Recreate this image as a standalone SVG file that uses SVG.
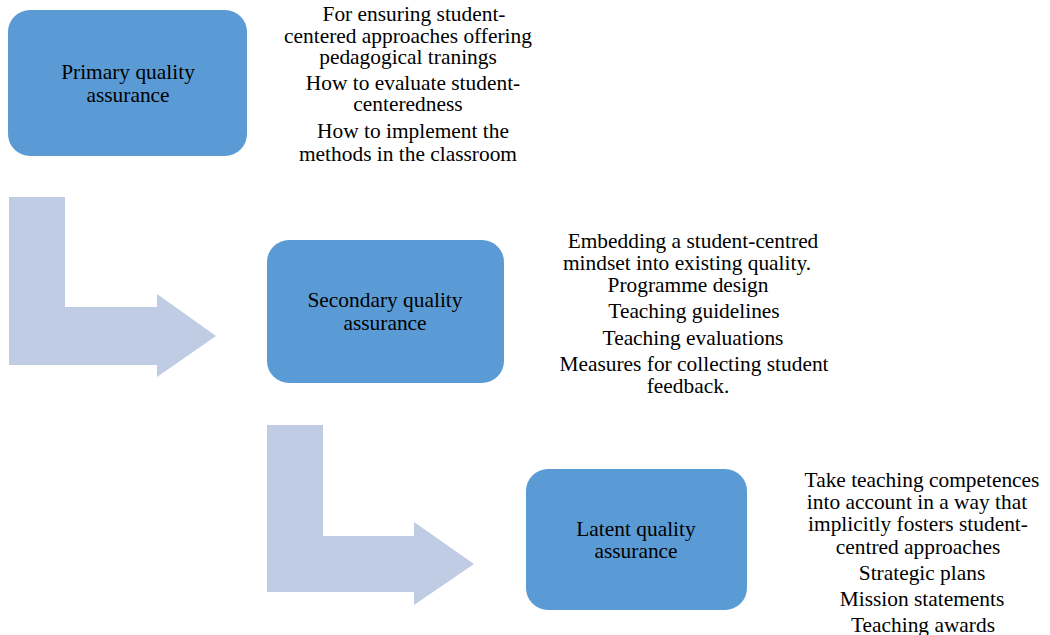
<svg xmlns="http://www.w3.org/2000/svg" width="1050" height="635" viewBox="0 0 1050 635">
<style>
.box{fill:#5B9BD5;}
.arr{fill:#BFCCE3;}
text{font-family:"Liberation Serif","Times New Roman",serif;font-size:21.4px;fill:#000;text-anchor:middle;}
</style>
<rect width="1050" height="635" fill="#fff"/>
<g id="connectors">
<path class="arr" d="M9,197 H65 V307 H157 V294 L216,336 L157,377 V365 H9 Z"/>
<path class="arr" d="M267,425 H323 V536 H414 V522 L474,564 L414,605 V592 H267 Z"/>
</g>
<g id="primary">
<rect class="box" x="8" y="10" width="239" height="146" rx="22"/>
<text x="128" y="79">Primary quality</text>
<text x="128" y="102">assurance</text>
</g>
<g id="secondary">
<rect class="box" x="267" y="240" width="237" height="143" rx="22"/>
<text x="385" y="307">Secondary quality</text>
<text x="385" y="330">assurance</text>
</g>
<g id="latent">
<rect class="box" x="526" y="469" width="221" height="141" rx="22"/>
<text x="636" y="536">Latent quality</text>
<text x="636" y="558">assurance</text>
</g>
<g id="primary-notes">
<text x="414" y="21">For ensuring student-</text>
<text x="408" y="43">centered approaches offering</text>
<text x="408" y="64">pedagogical tranings</text>
<text x="413" y="90">How to evaluate student-</text>
<text x="408" y="111">centeredness</text>
<text x="413" y="138">How to implement the</text>
<text x="408" y="161">methods in the classroom</text>
</g>
<g id="secondary-notes">
<text x="693" y="248">Embedding a student-centred</text>
<text x="687" y="270">mindset into existing quality.</text>
<text x="688" y="292">Programme design</text>
<text x="694" y="318">Teaching guidelines</text>
<text x="693" y="345">Teaching evaluations</text>
<text x="694" y="371">Measures for collecting student</text>
<text x="688" y="393">feedback.</text>
</g>
<g id="latent-notes">
<text x="922" y="487">Take teaching competences</text>
<text x="917" y="509">into account in a way that</text>
<text x="918" y="531">implicitly fosters student-</text>
<text x="918" y="554">centred approaches</text>
<text x="922" y="580">Strategic plans</text>
<text x="922" y="606">Mission statements</text>
<text x="923" y="632">Teaching awards</text>
</g>
</svg>
